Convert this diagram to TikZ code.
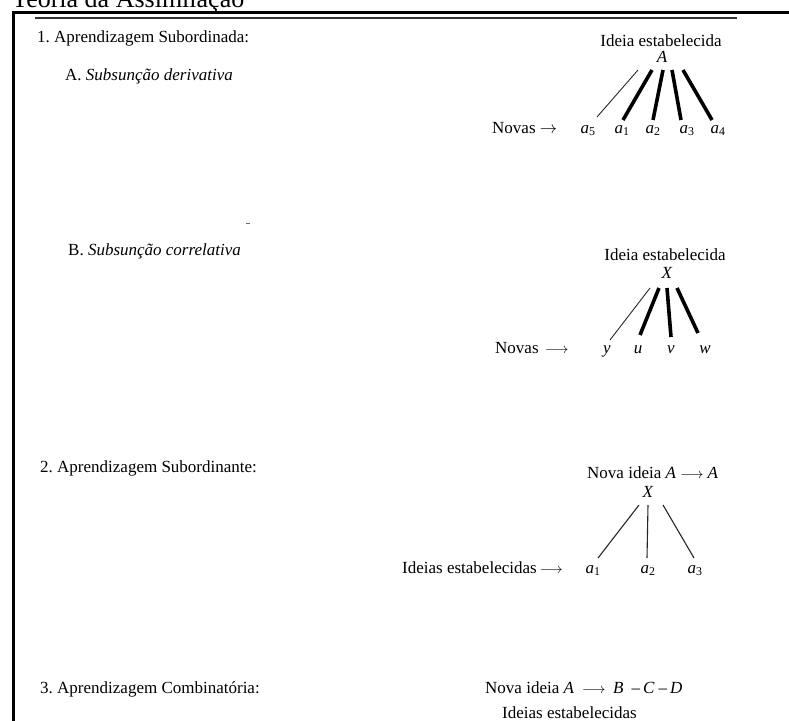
\documentclass[tikz,border=0pt]{standalone}
\usepackage{fontspec}
\setmainfont{Liberation Serif}
\frenchspacing
\newcommand{\LA}{{\fontsize{15}{15}\selectfont$\longrightarrow$}}
\newcommand{\RA}{$\rightarrow$}
\tikzset{
  lbl/.style={inner sep=0pt, anchor=base west, font=\fontsize{17}{20}\selectfont},
  ctr/.style={inner sep=0pt, anchor=base, font=\fontsize{17}{20}\selectfont},
  thinline/.style={line width=0.9pt, black!85},
  thickline/.style={line width=3.6pt, black},
  midline/.style={line width=1.1pt, black!85},
}
\begin{document}
\begin{tikzpicture}[x=1pt,y=-1pt]
\useasboundingbox (0,0) rectangle (789,720);
% title (cut at top)
\node[inner sep=0pt, anchor=base west, font=\fontsize{26}{30}\selectfont] (title) at (12,7) {Teoria da Assimilação};
% frame
\draw[line width=3pt, line join=miter] (13.5,725) -- (13.5,12) -- (795,12);
\draw[line width=1.5pt, black!80] (35,18) -- (737,18);

% ---- Section 1 A
\node[lbl] (t1) at (37,42) {1. Aprendizagem Subordinada:};
\node[lbl] (t1a) at (65,80) {A. \textit{Subsunção derivativa}};
\node[ctr] (ide1) at (661,46) {Ideia estabelecida};
\node[ctr] (A1) at (662,62) {\textit{A}};
\node[lbl] (nov1) at (492,133) {Novas \RA};
\node[ctr] (a5) at (588,133) {\textit{a}\textsubscript{5}};
\node[ctr] (a1) at (622,133) {\textit{a}\textsubscript{1}};
\node[ctr] (a2) at (653,133) {\textit{a}\textsubscript{2}};
\node[ctr] (a3) at (687,133) {\textit{a}\textsubscript{3}};
\node[ctr] (a4) at (718,133) {\textit{a}\textsubscript{4}};
\coordinate (s1t5) at (638,70); \coordinate (s1b5) at (597,117);
\coordinate (s1t1) at (652,70); \coordinate (s1b1) at (623,120);
\coordinate (s1t2) at (663,70); \coordinate (s1b2) at (653,120);
\coordinate (s1t3) at (672,70); \coordinate (s1b3) at (681,120);
\coordinate (s1t4) at (683,70); \coordinate (s1b4) at (712,120);
\draw[thinline] (s1t5) -- (s1b5);
\draw[thickline] (s1t1) -- (s1b1);
\draw[thickline] (s1t2) -- (s1b2);
\draw[thickline] (s1t3) -- (s1b3);
\draw[thickline] (s1t4) -- (s1b4);

% ---- Section 1 B
\node[lbl] (t1b) at (68,255) {B. \textit{Subsunção correlativa}};
\coordinate (dashL) at (246,223); \coordinate (dashR) at (250,223);
\draw[line width=0.8pt, black!60] (dashL) -- (dashR);
\node[ctr] (ideB) at (665,260) {Ideia estabelecida};
\node[ctr] (XB) at (667,278) {\textit{X}};
\node[lbl] (novB) at (495,353) {Novas};
\node[lbl] (arrB) at (545,353) {\LA};
\node[ctr] (ny) at (607,353) {\textit{y}};
\node[ctr] (nu) at (638,353) {\textit{u}};
\node[ctr] (nv) at (671,353) {\textit{v}};
\node[ctr] (nw) at (705,353) {\textit{w}};
\coordinate (sBty) at (650,288); \coordinate (sBby) at (610,340);
\coordinate (sBtu) at (659,288); \coordinate (sBbu) at (640,335);
\coordinate (sBtv) at (667,288); \coordinate (sBbv) at (671,337);
\coordinate (sBtw) at (677,288); \coordinate (sBbw) at (698,333);
\draw[thinline] (sBty) -- (sBby);
\draw[thickline] (sBtu) -- (sBbu);
\draw[thickline] (sBtv) -- (sBbv);
\draw[thickline] (sBtw) -- (sBbw);

% ---- Section 2
\node[lbl] (t2) at (40,472) {2. Aprendizagem Subordinante:};
\node[lbl] (nova2) at (587,478) {Nova ideia \textit{A} \LA\ \textit{A}};
\node[ctr] (X2) at (648,497) {\textit{X}};
\node[lbl] (ide2) at (402,573) {Ideias estabelecidas\,\LA};
\node[ctr] (b1) at (593,573) {\textit{a}\textsubscript{1}};
\node[ctr] (b2) at (648,573) {\textit{a}\textsubscript{2}};
\node[ctr] (b3) at (695,573) {\textit{a}\textsubscript{3}};
\coordinate (s2t1) at (639,505); \coordinate (s2b1) at (598,558);
\coordinate (s2t2) at (648,505); \coordinate (s2b2) at (647,558);
\coordinate (s2t3) at (663,505); \coordinate (s2b3) at (694,558);
\draw[midline] (s2t1) -- (s2b1);
\draw[midline] (s2t2) -- (s2b2);
\draw[midline] (s2t3) -- (s2b3);

% ---- Section 3
\node[lbl] (t3) at (40,693) {3. Aprendizagem Combinatória:};
\node[lbl] (nova3) at (485,693) {Nova ideia \textit{A}};
\node[lbl] (arr3) at (582,693) {\LA};
\node[lbl] (bcd) at (613,693) {\textit{B}\hspace{8pt}–\hspace{3pt}\textit{C}\hspace{4pt}–\hspace{3pt}\textit{D}};
\node[lbl] (ide3) at (502,718) {Ideias estabelecidas};
\end{tikzpicture}
\end{document}
